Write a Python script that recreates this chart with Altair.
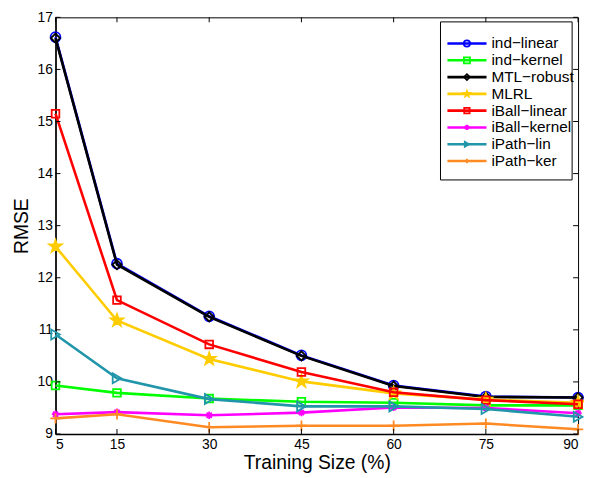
import altair as alt
import pandas as pd

# ---- data ----
sizes = [5, 15, 30, 45, 60, 75, 90]
names = ["ind−linear", "ind−kernel", "MTL−robust", "MLRL",
         "iBall−linear", "iBall−kernel", "iPath−lin", "iPath−ker"]
ind_linear = [16.62, 12.27, 11.26, 10.51, 9.93, 9.72, 9.70]
ind_kernel = [9.93, 9.79, 9.68, 9.62, 9.60, 9.55, 9.55]
mtl_robust = [16.60, 12.25, 11.25, 10.50, 9.92, 9.71, 9.70]
mlrl = [12.60, 11.18, 10.44, 10.01, 9.78, 9.66, 9.60]
iball_linear = [15.15, 11.57, 10.72, 10.19, 9.80, 9.65, 9.57]
iball_kernel = [9.38, 9.42, 9.36, 9.41, 9.51, 9.50, 9.40]
ipath_lin = [10.91, 10.07, 9.67, 9.53, 9.53, 9.48, 9.33]
ipath_ker = [9.30, 9.38, 9.13, 9.16, 9.16, 9.20, 9.09]
series = [ind_linear, ind_kernel, mtl_robust, mlrl,
          iball_linear, iball_kernel, ipath_lin, ipath_ker]
x_ticks = [5, 15, 30, 45, 60, 75, 90]
y_ticks = [9, 10, 11, 12, 13, 14, 15, 16, 17]

# ---- style ----
colors = ["#0000FF", "#00FF00", "#000000", "#FFCC00",
          "#FF0000", "#FF00FF", "#2196AA", "#FF8A24"]
STAR = ("M0,-1L0.2245,-0.309L0.9511,-0.309L0.3633,0.118L0.5878,0.809L0,0.382"
        "L-0.5878,0.809L-0.3633,0.118L-0.9511,-0.309L-0.2245,-0.309Z")
PLUS = "M-1,0H1M0,-1V1"
ASTER = "M-1,0H1M0,-1V1M-0.7,-0.7L0.7,0.7M-0.7,0.7L0.7,-0.7"
shapes = ["circle", "square", "diamond", STAR, "square", ASTER, "triangle-right", PLUS]
sizes_pt = [100, 60, 85, 170, 60, 55, 100, 110]
fills = ["transparent"] * 3 + ["#FFCC00"] + ["transparent"] * 4
leg_sizes = [40, 22, 40, 120, 22, 30, 60, 100]

W, H = 528, 421
FONT = "Liberation Sans"

df = pd.DataFrame({
    "size": sizes * len(names),
    "rmse": [v for s in series for v in s],
    "name": [n for n in names for _ in sizes],
})

x_axis = alt.Axis(values=x_ticks, title="Training Size (%)", grid=False, tickSize=0,
                  labelPadding=4, labelFontSize=14, labelFont=FONT, labelColor="black",
                  titleFont=FONT, titleFontSize=19.5, titleFontWeight="normal",
                  titleColor="black", titlePadding=2, domainColor="black",
                  domainWidth=1.5, format="d")
y_axis = alt.Axis(values=y_ticks, title="RMSE", grid=False, tickSize=0,
                  labelPadding=3, labelFontSize=14, labelFont=FONT, labelColor="black",
                  titleFont=FONT, titleFontSize=19.5, titleFontWeight="normal",
                  titleColor="black", titlePadding=6, domainColor="black",
                  domainWidth=1.5, format="d")
x_scale = alt.Scale(domain=[5, 90], nice=False, zero=False)
y_scale = alt.Scale(domain=[9, 17], nice=False, zero=False)


def X(field):
    return alt.X(field, scale=x_scale, axis=x_axis)


def Y(field):
    return alt.Y(field, scale=y_scale, axis=y_axis)


layers = []
for i, n in enumerate(names):
    sub = alt.Chart(df).transform_filter(alt.datum.name == n)
    layers.append(sub.mark_line(color=colors[i], strokeWidth=2.6).encode(
        x=X("size:Q"), y=Y("rmse:Q")))
    layers.append(sub.mark_point(shape=shapes[i], size=sizes_pt[i], stroke=colors[i],
                                 fill=fills[i], fillOpacity=1, opacity=1,
                                 strokeWidth=1.8, filled=False).encode(
        x=X("size:Q"), y=Y("rmse:Q")))

xt = pd.DataFrame({"t": x_ticks})
yt = pd.DataFrame({"t": y_ticks})
TL = 5
layers += [
    alt.Chart(xt).mark_rule(color="black", strokeWidth=1).encode(
        x=X("t:Q"), y=alt.value(H), y2=alt.value(H - TL)),
    alt.Chart(xt).mark_rule(color="black", strokeWidth=1).encode(
        x=X("t:Q"), y=alt.value(0), y2=alt.value(TL)),
    alt.Chart(yt).mark_rule(color="black", strokeWidth=1).encode(
        y=Y("t:Q"), x=alt.value(0), x2=alt.value(TL)),
    alt.Chart(yt).mark_rule(color="black", strokeWidth=1).encode(
        y=Y("t:Q"), x=alt.value(W), x2=alt.value(W - TL)),
]
main = alt.layer(*layers)

# ---- manual legend ----
leg = pd.DataFrame({"name": names})
ly = alt.Y("name:N", scale=alt.Scale(domain=names, range=[18, 153.6], padding=0), axis=None)
leg_color = alt.Color("name:N", scale=alt.Scale(domain=names, range=colors), legend=None)
box = alt.Chart(pd.DataFrame({"a": [0]})).mark_rect(
    fill="white", stroke="black", strokeWidth=1).encode(
    x=alt.value(389), x2=alt.value(522), y=alt.value(4.6), y2=alt.value(164.3))
leg_line = alt.Chart(leg).mark_rule(strokeWidth=2.6).encode(
    x=alt.value(396), x2=alt.value(435.5), y=ly, color=leg_color)
leg_pt = alt.Chart(leg).mark_point(filled=False, strokeWidth=1.8, opacity=1).encode(
    x=alt.value(415.7), y=ly,
    stroke=alt.Stroke("name:N", scale=alt.Scale(domain=names, range=colors), legend=None),
    shape=alt.Shape("name:N", scale=alt.Scale(domain=names, range=shapes), legend=None),
    fill=alt.Fill("name:N", scale=alt.Scale(domain=names, range=fills), legend=None),
    size=alt.Size("name:N", scale=alt.Scale(domain=names, range=leg_sizes), legend=None),
)
leg_txt = alt.Chart(leg).mark_text(align="left", baseline="middle", fontSize=15.5,
                                   font=FONT, color="black").encode(
    x=alt.value(440.5), y=ly, text="name:N")
legend = alt.layer(box, leg_line, leg_pt, leg_txt)

chart = alt.layer(main, legend).resolve_scale(
    y="independent", color="independent", shape="independent", fill="independent",
    stroke="independent", size="independent"
).properties(
    width=W, height=H,
    autosize=alt.AutoSizeParams(type="none"),
    padding={"left": 48, "top": 7, "right": 6, "bottom": 40},
).configure_view(stroke="black", strokeWidth=1)

chart.save("out.html", embed_options={"renderer": "svg", "actions": False})
